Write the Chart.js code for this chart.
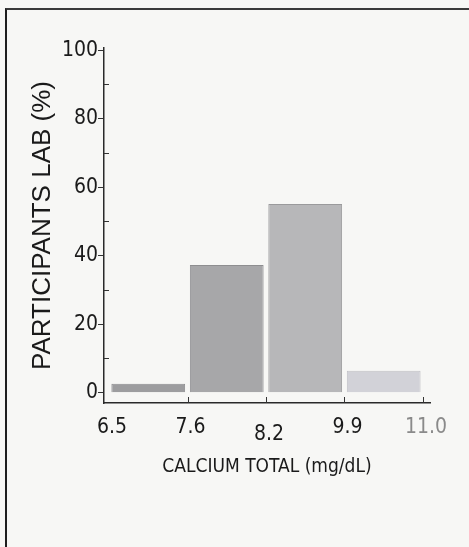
<!DOCTYPE html>
<html><head><meta charset="utf-8">
<script src="https://cdn.jsdelivr.net/npm/chart.js@4/dist/chart.umd.min.js"></script>
<style>
html,body{margin:0;padding:0;background:#f7f7f5;}
#wrap{position:relative;width:469px;height:547px;overflow:hidden;}
#frame{position:absolute;left:5px;top:8px;width:470px;height:545px;border-left:2px solid #1e1e1e;border-top:2px solid #3a3a3a;box-sizing:border-box;}
canvas{position:absolute;left:0;top:0;}
</style></head>
<body><div id="wrap"><div id="frame"></div><canvas id="c" width="469" height="547"></canvas></div>
<script>
// Bin edges (tick labels), bin values (% of participating labs)
const binEdges = ['6.5', '7.6', '8.2', '9.9', '11.0'];
const percents = [2.6, 37.3, 55.1, 6.4];
const yTicks = [0, 20, 40, 60, 80, 100];
const yMinorTicks = [10, 30, 50, 70, 90];
const barColors = ['#9d9d9f', '#a7a7a9', '#b7b7b9', '#d2d2d8'];
const barBorders = ['#8c8c8e', '#8e8e90', '#9a9a9c', '#c0c0c6'];

const narrow = "'DejaVu Sans Condensed', 'Liberation Sans Narrow', sans-serif";
const regular = "'Liberation Sans', Arial, sans-serif";

const innerTicks = {
  id: 'innerTicks',
  afterDraw(chart) {
    const {ctx, scales: {x, y}} = chart;
    ctx.save();
    ctx.strokeStyle = '#333';
    ctx.lineWidth = 1;
    ctx.beginPath();
    yMinorTicks.forEach(v => {
      const py = Math.round(y.getPixelForValue(v)) + 0.5;
      ctx.moveTo(x.left, py); ctx.lineTo(x.left + 5, py);
    });
    binEdges.forEach((_, i) => {
      if (i === 0) return;
      const px = Math.round(x.getPixelForValue(i)) + 0.5;
      ctx.moveTo(px, y.bottom); ctx.lineTo(px, y.bottom - 6);
    });
    ctx.stroke();
    ctx.restore();
  }
};

new Chart(document.getElementById('c'), {
  type: 'bar',
  data: {
    datasets: [{
      data: percents.map((v, i) => ({x: i + 0.5, y: v})),
      backgroundColor: barColors,
      borderColor: barBorders,
      borderWidth: 1,
      barPercentage: 0.94,
      categoryPercentage: 1
    }]
  },
  options: {
    responsive: false,
    animation: false,
    events: [],
    layout: {padding: {left: 0, right: 39, top: 48, bottom: 0}},
    plugins: {legend: {display: false}, tooltip: {enabled: false}},
    scales: {
      x: {
        type: 'linear',
        offset: false,
        min: -0.064, max: 4.09,
        afterBuildTicks: s => { s.ticks = binEdges.map((_, i) => ({value: i})); },
        afterFit: s => { s.height = 144; },
        grid: {display: false, drawTicks: false, offset: false},
        border: {display: true, color: '#2a2a2a', width: 1.5},
        ticks: {
          padding: 12,
          labelOffset: 3,
          autoSkip: false,
          maxRotation: 0,
          callback: (v, i) => binEdges[i],
          color: c => c.index === 4 ? '#8a8a8a' : '#1a1a1a',
          font: c => ({family: narrow, size: 21, lineHeight: c.index === 2 ? 1.85 : 1.2})
        },
        title: {
          display: true,
          text: 'CALCIUM TOTAL (mg/dL)',
          color: '#1a1a1a',
          font: {family: narrow, size: 19},
          padding: {top: 0, bottom: 69}
        }
      },
      y: {
        type: 'linear',
        min: -3, max: 100.6,
        afterBuildTicks: s => { s.ticks = yTicks.map(v => ({value: v})); },
        afterFit: s => { s.width = 104; },
        grid: {drawOnChartArea: false, drawTicks: true, tickLength: 6, color: '#333'},
        border: {display: true, color: '#2a2a2a', width: 1.5},
        ticks: {
          padding: 0,
          color: '#1a1a1a',
          font: {family: narrow, size: 21}
        },
        title: {
          display: true,
          text: 'PARTICIPANTS LAB (%)',
          color: '#1a1a1a',
          font: {family: regular, size: 26},
          padding: {top: 27, bottom: 0}
        }
      }
    }
  },
  plugins: [innerTicks]
});
</script></body></html>
